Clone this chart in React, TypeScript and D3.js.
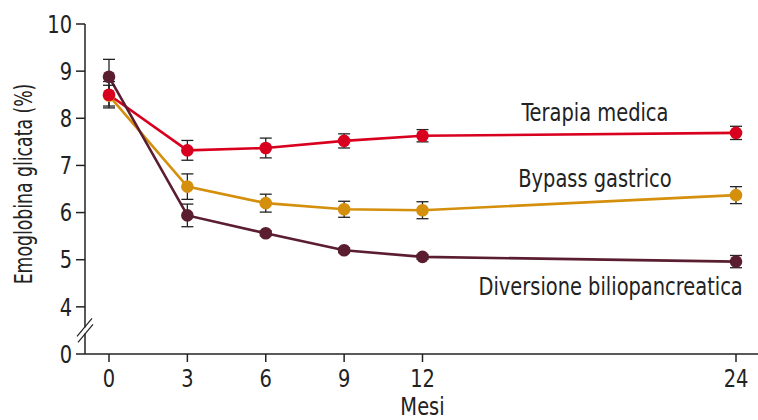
import React from 'react';
import * as d3 from 'd3';

// mesi di follow-up
const months = [0, 3, 6, 9, 12, 24];
const xTicks = [0, 3, 6, 9, 12, 24];
const yTicks = [0, 4, 5, 6, 7, 8, 9, 10];

// emoglobina glicata (%) media e errore
const terapia = [8.5, 7.32, 7.37, 7.52, 7.63, 7.69];
const terapiaErr = [0.28, 0.21, 0.21, 0.15, 0.13, 0.14];
const bypass = [8.48, 6.55, 6.2, 6.07, 6.05, 6.37];
const bypassErr = [0.22, 0.27, 0.19, 0.17, 0.18, 0.18];
const diversione = [8.88, 5.94, 5.56, 5.2, 5.06, 4.96];
const diversioneErr = [0.37, 0.24, 0.05, 0.05, 0.05, 0.13];

const seriesNames = ['Terapia medica', 'Bypass gastrico', 'Diversione biliopancreatica'];
// posizione etichette (mese, valore)
const labelMonth = [18.6, 18.6, 19.2];
const labelValue = [7.94, 6.55, 4.25];

const FONT = '"DejaVu Sans Condensed", "Liberation Sans Narrow", "Roboto", sans-serif';
const SX = 0.9; // compressione orizzontale del testo (carattere condensato)

const series = [
  { name: seriesNames[0], values: terapia, err: terapiaErr, color: '#d9001f' },
  { name: seriesNames[1], values: bypass, err: bypassErr, color: '#d48f0c' },
  { name: seriesNames[2], values: diversione, err: diversioneErr, color: '#5a1e30' },
];
// ordine di disegno dei punti: giallo, rosso, viola
const drawOrder = [1, 0, 2];

const Label = ({ x, y, anchor = 'middle', dy, rotate = 0, sx = SX, children }: any) => (
  <g transform={`translate(${x},${y}) rotate(${rotate}) scale(${sx},1)`}>
    <text textAnchor={anchor} dy={dy} fontSize={24} fill="#222">{children}</text>
  </g>
);

export default function App() {
  const width = 758;
  const height = 420;

  const x = d3.scaleLinear().domain([0, 24]).range([109, 736]);
  // asse interrotto: lo 0 occupa la posizione del 3
  const yLin = d3.scaleLinear().domain([3, 10]).range([354, 24]);
  const y = (v: number) => yLin(Math.max(v, 3));

  const line = d3.line<number>()
    .x((_, i) => x(months[i]))
    .y(d => y(d));

  const axisX0 = 85;
  const y0 = y(0);
  const breakY = (y(4) + y0) / 2;
  const ordered = drawOrder.map(i => series[i]);

  return (
    <svg width={width} height={height} style={{ position: 'absolute', left: 0, top: 0, background: '#fff' }}
      fontFamily={FONT}>
      {/* assi */}
      <line x1={axisX0} x2={width} y1={y0} y2={y0} stroke="#222" strokeWidth={1.5} />
      <line x1={axisX0} x2={axisX0} y1={yLin(10)} y2={y0} stroke="#222" strokeWidth={1.5} />
      {yTicks.map(t => (
        <g key={'y' + t}>
          <line x1={axisX0 - 9} x2={axisX0} y1={y(t)} y2={y(t)} stroke="#222" strokeWidth={1.5} />
          <Label x={axisX0 - 13} y={y(t)} anchor="end" dy="0.36em">{t}</Label>
        </g>
      ))}
      {xTicks.map(t => (
        <g key={'x' + t}>
          <line x1={x(t)} x2={x(t)} y1={y0} y2={y0 + 8} stroke="#222" strokeWidth={1.5} />
          <Label x={x(t)} y={y0 + 33}>{t}</Label>
        </g>
      ))}
      {/* interruzione asse */}
      <rect x={axisX0 - 2} y={breakY - 3} width={4} height={6} fill="#fff" />
      <line x1={axisX0 - 8} x2={axisX0 + 7} y1={breakY + 6} y2={breakY - 12} stroke="#222" strokeWidth={1.2} />
      <line x1={axisX0 - 7} x2={axisX0 + 8} y1={breakY + 12} y2={breakY - 6} stroke="#222" strokeWidth={1.2} />

      <Label x={x(12)} y={415}>Mesi</Label>
      <Label x={32} y={184} rotate={-90} sx={0.8}>Emoglobina glicata (%)</Label>

      {/* linee */}
      {ordered.map(s => (
        <path key={'l' + s.name} d={line(s.values) || ''} fill="none" stroke={s.color} strokeWidth={2.6} />
      ))}
      {/* barre di errore */}
      {ordered.map(s => s.values.map((v, i) => (
        <g key={'e' + s.name + i} stroke="#222" strokeWidth={1.3}>
          <line x1={x(months[i])} x2={x(months[i])} y1={y(v + s.err[i])} y2={y(v - s.err[i])} />
          <line x1={x(months[i]) - 6} x2={x(months[i]) + 6} y1={y(v + s.err[i])} y2={y(v + s.err[i])} />
          <line x1={x(months[i]) - 6} x2={x(months[i]) + 6} y1={y(v - s.err[i])} y2={y(v - s.err[i])} />
        </g>
      )))}
      {/* punti */}
      {ordered.map(s => s.values.map((v, i) => (
        <circle key={'c' + s.name + i} cx={x(months[i])} cy={y(v)} r={6.3} fill={s.color} />
      )))}
      {/* etichette serie */}
      {series.map((s, i) => (
        <Label key={'t' + s.name} x={x(labelMonth[i])} y={y(labelValue[i])}>{s.name}</Label>
      ))}
    </svg>
  );
}
